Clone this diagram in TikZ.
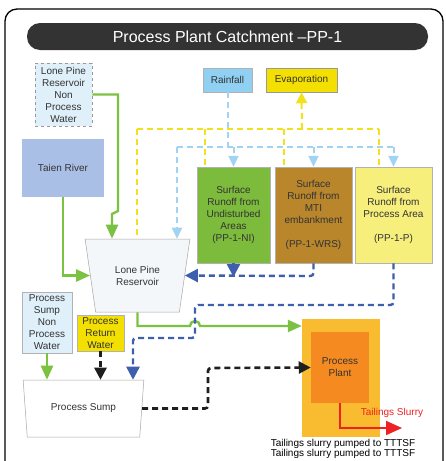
\documentclass[tikz,border=0pt]{standalone}
\usepackage{fontspec}
\setmainfont{Liberation Sans}
\usetikzlibrary{shapes.geometric,arrows.meta}
\definecolor{gline}{HTML}{7CC242}
\definecolor{ydash}{HTML}{F2E21B}
\definecolor{lbdash}{HTML}{A1D3F2}
\definecolor{dbdash}{HTML}{3D5FAD}
\definecolor{kdash}{HTML}{1E1E1E}
\definecolor{paleblue}{HTML}{DFF0FA}
\definecolor{taienc}{HTML}{AABFE6}
\definecolor{rainc}{HTML}{8FD0F3}
\definecolor{evapc}{HTML}{F3E000}
\definecolor{greenbox}{HTML}{7DBB3C}
\definecolor{brownbox}{HTML}{B9862C}
\definecolor{yellowbox}{HTML}{F7EF7C}
\definecolor{plantout}{HTML}{F9BB30}
\definecolor{plantin}{HTML}{F58A20}
\definecolor{resc}{HTML}{F4F7FA}
\definecolor{slurry}{HTML}{EE2222}
\begin{document}
\begin{tikzpicture}[x=1pt,y=-1pt,
  box/.style={draw=gray!60, line width=0.5pt, align=center, inner sep=1pt,
    font=\fontsize{10}{12}\selectfont, text=black!80},
  trap/.style={trapezium, trapezium stretches=true, shape border rotate=180,
    draw=gray!70, line width=0.5pt, align=center, inner sep=0pt,
    font=\fontsize{10}{12}\selectfont, text=black!80},
  gtip/.style={-{Triangle[length=14pt,width=12pt]}},
  greenline/.style={draw=gline, line width=2.4pt},
  ydashed/.style={draw=ydash, line width=2pt, dash pattern=on 6pt off 4pt},
  lbdashed/.style={draw=lbdash, line width=2pt, dash pattern=on 6pt off 4pt},
  dbdashed/.style={draw=dbdash, line width=2.4pt, dash pattern=on 6pt off 4pt, rounded corners=3pt},
  kdashed/.style={draw=kdash, line width=2.6pt, dash pattern=on 6pt off 4pt, rounded corners=3pt},
  lbtip/.style={-{Triangle[length=11pt,width=10pt]}},
  dbtip/.style={-{Triangle[length=13pt,width=13pt]}},
]
\useasboundingbox (0,0) rectangle (445,461);
\fill[white] (0,0) rectangle (445,461);
% frame
\draw[line width=1.3pt, rounded corners=12pt] (5,9) rectangle (443,490);
% title bar
\node[fill=black!80, rounded corners=13pt, minimum width=401pt, minimum height=27pt,
  text=white, font=\fontsize{16}{18}\selectfont, inner sep=0pt] (title) at (227.5,36.5) {Process Plant Catchment --PP-1};

% boxes
\node[box, fill=paleblue, draw=gray!80, dashed, minimum width=57pt, minimum height=63pt] (lpnpw) at (63.5,94.5) {Lone Pine\\Reservoir\\Non\\Process\\Water};
\node[box, fill=taienc, draw=none, minimum width=82pt, minimum height=58pt] (taien) at (63,168) {Taien River};
\node[box, fill=rainc, minimum width=49pt, minimum height=24pt] (rain) at (227.5,80) {Rainfall};
\node[box, fill=evapc, draw=gray!80, minimum width=71pt, minimum height=24pt] (evap) at (301.5,80) {Evaporation};
\node[box, fill=greenbox, minimum width=73pt, minimum height=96pt] (sgreen) at (233.5,215) {Surface\\Runoff from\\Undisturbed\\Areas\\(PP-1-NI)};
\node[box, fill=brownbox, minimum width=77pt, minimum height=96pt] (sbrown) at (313.5,215) {Surface\\Runoff from\\MTI\\embankment\\[12pt](PP-1-WRS)};
\node[box, fill=yellowbox, minimum width=77pt, minimum height=96pt] (syellow) at (393.5,215) {Surface\\Runoff from\\Process Area\\[12pt](PP-1-P)};
\node[trap, fill=resc, minimum width=105pt, minimum height=73pt, trapezium angle=73.6] (res) at (137.5,275.5) {Lone Pine\\Reservoir};
\node[box, fill=paleblue, minimum width=50pt, minimum height=61pt] (psnpw) at (47,322.5) {Process\\Sump\\Non\\Process\\Water};
\node[box, fill=evapc, minimum width=47pt, minimum height=36pt] (prw) at (100.5,333) {Process\\Return\\Water};
\node[trap, fill=white, minimum width=121pt, minimum height=57pt, trapezium angle=75.3] (sump) at (83.5,408.5) {Process Sump};
\node[fill=plantout, minimum width=78pt, minimum height=118pt, inner sep=0pt] (pout) at (341,378) {};
\node[box, draw=none, fill=plantin, minimum width=58pt, minimum height=71pt] (pin) at (340,367.5) {Process\\Plant};
\node[text=slurry, font=\fontsize{10}{12}\selectfont, inner sep=0pt] (tslabel) at (392,413) {Tailings Slurry};
\node[align=center, font=\fontsize{10}{9}\selectfont, inner sep=0pt] (pumped) at (343,449) {Tailings slurry pumped to TTTSF\\Tailings slurry pumped to TTTSF};

% yellow dashed (evaporation collector)
\coordinate (yL) at (137,129);
\coordinate (yR) at (379,129);
\draw[ydashed] (yL) -- (yR);
\draw[ydashed] (yL) -- (yL |- res.north);
\draw[ydashed] (205,129) -- (205,0 |- sgreen.north);
\draw[ydashed] (284,129) -- (284,0 |- sbrown.north);
\draw[ydashed] (yR) -- (yR |- syellow.north);
\draw[ydashed, -{Triangle[length=11pt,width=11pt]}] (302,129) -- (evap.south);

% light blue dashed (rainfall)
\coordinate (lbL) at (177,147);
\coordinate (lbR) at (393.5,147);
\draw[lbdashed] (rain.south) -- (rain.south |- lbL);
\draw[lbdashed] (lbL) -- (lbR);
\draw[lbdashed, lbtip] (lbL) -- (lbL |- res.north);
\draw[lbdashed, lbtip] (sgreen.north |- lbL) -- (sgreen.north);
\draw[lbdashed, lbtip] (sbrown.north |- lbL) -- (sbrown.north);
\draw[lbdashed, lbtip] (lbR) -- (syellow.north);

% green solid
\draw[greenline, gtip] (lpnpw.east) -- (118,94.5) -- (118,211) -- (112,214) -- (112,0 |- res.north);
\draw[greenline, gtip] (taien.south) |- (res.west);
\draw[greenline, gtip] (psnpw.south) -- (psnpw.south |- sump.north);
\draw[greenline, gtip] (res.south) -- (137.5,326) -- (190,326) arc[start angle=180, end angle=360, radius=5] -- (pout.west |- 0,326);

% dark blue dashed
\draw[dbdashed, dbtip] (sbrown.south) -- (313.5,276) -- (res.east);
\draw[dbdashed, dbtip] (sgreen.south) -- (233.5,277);
\draw[dbdashed, dbtip] (syellow.south) -- (393.5,305) -- (195,305) -- (195,338) -- (133,338) -- (133,0 |- sump.north);

% black dashed
\draw[kdashed, -{Triangle[length=12pt,width=12pt]}] (prw.south) -- (prw.south |- sump.north);
\draw[kdashed, -{Triangle[length=12pt,width=12pt]}] (sump.east) -- (208,408.5) -- (208,368) -- (pin.west);

% tailings
\coordinate (tsend) at (402,428);
\draw[draw=slurry, line width=2pt, -{Triangle[length=16pt,width=14pt]}] (pin.south) |- (tsend);
\end{tikzpicture}
\end{document}
